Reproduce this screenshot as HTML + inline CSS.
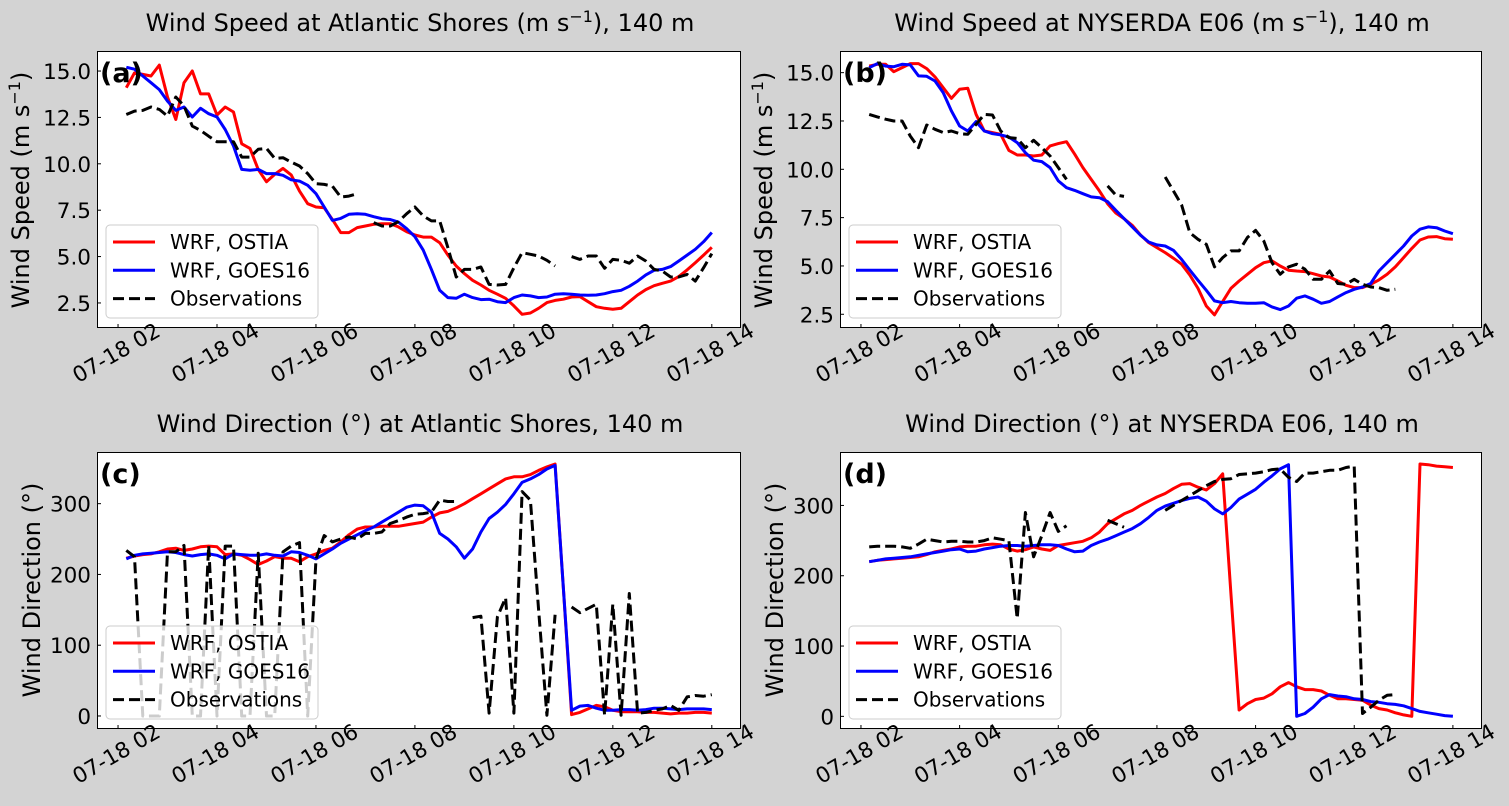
<!DOCTYPE html>
<html><head><meta charset="utf-8"><title>Wind speed and direction at 140 m</title>
<style>
html,body{margin:0;padding:0;background:#d3d3d3;}
svg{display:block;font-family:"DejaVu Sans","Liberation Sans",sans-serif;}
</style></head>
<body>
<svg id="fig" width="1509" height="806" viewBox="0 0 1509 806" xmlns="http://www.w3.org/2000/svg">
<rect x="0" y="0" width="1509" height="806" fill="#d3d3d3"/>
<text x="420" y="31" font-size="24" text-anchor="middle">Wind Speed at Atlantic Shores (m s<tspan dy="-9" font-size="16">−1</tspan><tspan dy="9">), 140 m</tspan></text>
<text x="1162" y="31" font-size="24" text-anchor="middle">Wind Speed at NYSERDA E06 (m s<tspan dy="-9" font-size="16">−1</tspan><tspan dy="9">), 140 m</tspan></text>
<text x="420" y="432" font-size="24" text-anchor="middle">Wind Direction (°) at Atlantic Shores, 140 m</text>
<text x="1162" y="432" font-size="24" text-anchor="middle">Wind Direction (°) at NYSERDA E06, 140 m</text>
<text transform="translate(29,190) rotate(-90)" font-size="24" text-anchor="middle">Wind Speed (m s<tspan dy="-9" font-size="16">−1</tspan><tspan dy="9">)</tspan></text>
<text transform="translate(772,190) rotate(-90)" font-size="24" text-anchor="middle">Wind Speed (m s<tspan dy="-9" font-size="16">−1</tspan><tspan dy="9">)</tspan></text>
<text transform="translate(40,590) rotate(-90)" font-size="24" text-anchor="middle">Wind Direction (°)</text>
<text transform="translate(783,590) rotate(-90)" font-size="24" text-anchor="middle">Wind Direction (°)</text>
</svg>
<script>
// time grid: 10-minute steps from 02:10 to 14:00 (hours)
const times = Array.from({length:72}, (_, k) => 2 + (k + 1) / 6);
const xTickHours = [2, 4, 6, 8, 10, 12, 14];
const xTickLabels = ["07-18 02","07-18 04","07-18 06","07-18 08","07-18 10","07-18 12","07-18 14"];
const speedTicks = [2.5, 5.0, 7.5, 10.0, 12.5, 15.0];
const dirTicks = [0, 100, 200, 300];
const legendLabels = ["WRF, OSTIA", "WRF, GOES16", "Observations"];

const ostiaA = [14.1,14.9,14.82,14.73,15.32,13.6,12.39,14.37,15.0,13.77,13.77,12.63,13.06,12.79,11.08,10.83,9.7,9.03,9.43,9.75,9.4,8.53,7.85,7.67,7.63,7.0,6.29,6.29,6.56,6.65,6.74,6.77,6.77,6.6,6.34,6.16,6.05,6.05,5.75,5.08,4.49,4.08,3.72,3.47,3.18,2.97,2.75,2.34,1.89,1.96,2.21,2.52,2.64,2.7,2.82,2.84,2.57,2.3,2.21,2.16,2.21,2.57,2.93,3.22,3.43,3.56,3.68,3.92,4.28,4.67,5.08,5.5];
const goesA = [15.2,15.1,14.73,14.37,14.0,13.38,12.88,13.06,12.52,12.99,12.7,12.52,11.85,10.96,9.7,9.65,9.7,9.47,9.47,9.38,9.14,9.07,8.84,8.39,7.67,6.95,7.06,7.28,7.31,7.28,7.15,7.04,7.0,6.86,6.5,6.07,5.35,4.31,3.18,2.79,2.75,2.97,2.79,2.68,2.7,2.57,2.52,2.79,2.93,2.88,2.79,2.82,2.97,3.0,2.97,2.93,2.91,2.93,3.0,3.11,3.18,3.4,3.68,4.01,4.26,4.31,4.46,4.76,5.08,5.39,5.8,6.3];
const obsA = [12.66,12.84,12.88,13.06,12.93,12.57,13.6,13.12,12.03,11.8,11.49,11.19,11.19,11.19,10.36,10.36,10.78,10.83,10.29,10.33,10.09,9.88,9.47,8.93,8.89,8.8,8.21,8.26,8.39,null,6.83,6.65,6.65,6.88,7.31,7.67,7.19,6.92,6.92,5.48,3.9,4.31,4.31,4.44,3.5,3.47,3.5,4.4,5.21,5.12,5.03,4.8,4.49,null,5.0,4.85,5.03,5.03,4.37,4.85,4.8,4.64,5.03,4.76,4.31,4.22,3.9,3.9,4.04,3.68,4.4,5.16];

const ostiaB = [15.34,15.43,15.43,15.05,15.26,15.47,15.47,15.21,14.78,14.22,13.67,14.14,14.19,12.84,11.98,11.9,11.81,10.98,10.74,10.74,10.69,10.74,11.21,11.33,11.43,10.78,10.09,9.48,8.88,8.22,7.74,7.45,7.1,6.6,6.21,5.95,5.69,5.4,5.09,4.53,3.84,2.93,2.47,3.16,3.84,4.22,4.57,4.91,5.17,5.26,5.0,4.78,4.74,4.71,4.6,4.48,4.43,4.22,4.0,3.88,3.88,4.05,4.28,4.57,4.95,5.43,5.91,6.34,6.5,6.52,6.41,6.38];
const goesB = [15.26,15.47,15.34,15.31,15.43,15.4,14.83,14.81,14.57,13.97,13.02,12.24,11.98,12.47,11.98,11.84,11.78,11.67,11.38,10.86,10.47,10.4,10.09,9.4,9.05,8.91,8.74,8.57,8.53,8.33,7.88,7.45,7.02,6.59,6.24,6.09,6.03,5.81,5.34,4.79,4.26,3.74,3.19,3.1,3.16,3.1,3.07,3.07,3.1,2.88,2.74,2.93,3.33,3.45,3.28,3.07,3.16,3.4,3.62,3.79,3.91,4.09,4.74,5.17,5.6,6.03,6.55,6.9,7.02,6.98,6.81,6.67];
const obsB = [12.84,12.71,12.59,12.5,12.5,11.72,11.12,12.29,12.07,11.9,11.98,11.84,11.81,12.33,12.84,12.81,11.98,11.64,11.6,11.12,11.5,11.12,10.69,10.09,9.48,null,null,null,null,9.14,8.67,8.6,null,null,null,null,9.6,8.88,8.16,6.72,6.38,6.12,4.95,5.43,5.78,5.78,6.47,6.84,6.29,5.17,4.57,4.95,5.09,4.83,4.31,4.31,4.74,4.09,4.05,4.31,4.05,3.91,3.88,3.74,3.79,null,null,null,null,null,null,null];

const ostiaC = [223,226,228,229,232,236,237,234,236,239,240,239,228,229,227,221,214,219,225,223,223,218,225,229,234,237,246,256,264,267,267,268,268,268,270,272,274,281,287,289,294,300,307,314,321,328,335,338,338,341,347,352,356,180,2,5,10,15,13,8,6,6,6,5,5,4,3,4,4,5,5,4];
const goesC = [222,227,229,230,231,232,231,228,226,228,229,227,222,229,228,227,227,229,227,226,232,231,227,222,229,236,244,250,256,262,267,274,281,288,295,298,297,288,258,250,239,223,236,260,279,288,299,314,330,335,341,349,354,180,8,14,15,11,8,8,9,9,8,9,11,11,10,9,10,10,10,9];
const obsC = [234,225,0,0,0,232,232,241,0,0,241,0,240,240,0,0,230,0,0,232,240,245,0,222,255,246,250,253,250,258,258,260,272,276,281,285,286,288,305,303,303,null,139,141,4,140,167,4,317,305,150,1,143,null,154,146,152,158,1,158,1,173,4,5,8,10,15,8,27,29,28,30];

const ostiaD = [220,222,223,224,225,226,227,230,234,236,238,241,242,242,244,245,244,238,235,237,241,238,236,243,245,247,249,254,262,274,281,288,293,300,306,312,317,324,330,331,326,322,331,345,175,9,18,24,26,32,42,48,42,38,38,36,30,25,25,24,23,16,11,9,5,2,0,359,358,356,355,354];
const goesD = [220,222,224,225,226,227,229,231,233,235,237,238,234,235,238,240,242,243,243,242,243,244,244,243,238,234,235,243,248,252,257,262,267,274,283,293,299,303,307,310,312,306,295,288,297,309,316,323,333,342,352,358,0,4,13,25,31,29,28,25,24,21,20,18,17,15,11,7,5,3,1,0];
const obsD = [241,242,242,242,241,239,245,252,250,248,249,249,248,248,250,254,252,250,139,290,227,257,290,263,271,null,null,null,null,279,274,269,null,null,null,null,293,300,307,314,321,328,334,337,338,344,345,346,348,351,352,340,334,346,346,348,350,350,354,356,4,13,23,30,31,null,null,null,null,null,null,null];

const NS = "http://www.w3.org/2000/svg";
const svg = document.getElementById("fig");
const xLim = [1.575, 14.59];

function mk(tag, attrs, parent) {
  const e = document.createElementNS(NS, tag);
  for (const k in attrs) e.setAttribute(k, attrs[k]);
  (parent || svg).appendChild(e);
  return e;
}

function drawPanel(id, box, yLim, yTicks, fmt, series) {
  const xs = t => box.x0 + (t - xLim[0]) / (xLim[1] - xLim[0]) * (box.x1 - box.x0);
  const ys = v => box.y1 - (v - yLim[0]) / (yLim[1] - yLim[0]) * (box.y1 - box.y0);
  const g = mk("g", {});
  
  
  const bg = mk("rect", {x: box.x0, y: box.y0, width: box.x1 - box.x0, height: box.y1 - box.y0, fill: "#fff"}, g);
  
  
  const clipId = "clip-" + id;
  const cp = mk("clipPath", {id: clipId}, g);
  mk("rect", {x: box.x0, y: box.y0, width: box.x1 - box.x0, height: box.y1 - box.y0}, cp);

  xTickHours.forEach((h, i) => {
    const x = xs(h);
    const tk = mk("line", {x1: x, x2: x, y1: box.y1, y2: box.y1 - 4, stroke: "#000", "stroke-width": 1}, g);
    
    
    const lb = mk("text", {x: 0, y: 0, "font-size": 21.5, "text-anchor": "middle", "dominant-baseline": "middle",
      transform: "translate(" + (x - 1) + "," + (box.y1 + 26) + ") rotate(-30)"}, g);
    lb.textContent = xTickLabels[i];
    
    
  });
  yTicks.forEach(v => {
    const y = ys(v);
    const tk = mk("line", {x1: box.x0, x2: box.x0 + 4, y1: y, y2: y, stroke: "#000", "stroke-width": 1}, g);
    
    
    const lb = mk("text", {x: box.x0 - 6, y: y + 8, "font-size": 21.5, "text-anchor": "end"}, g);
    lb.textContent = fmt(v);
    
    
  });

  const styles = [
    {stroke: "#ff0000", dash: null, name: "ostia"},
    {stroke: "#0000ff", dash: null, name: "goes16"},
    {stroke: "#000000", dash: "11 5", name: "observations"}
  ];
  series.forEach((vals, si) => {
    let d = "", pen = false;
    vals.forEach((v, k) => {
      if (v === null) { pen = false; return; }
      d += (pen ? "L" : "M") + xs(times[k]).toFixed(1) + "," + ys(v).toFixed(1);
      pen = true;
    });
    const p = mk("path", {d: d, fill: "none", stroke: styles[si].stroke, "stroke-width": 3,
      "stroke-linejoin": "round", "clip-path": "url(#" + clipId + ")"}, g);
    if (styles[si].dash) p.setAttribute("stroke-dasharray", styles[si].dash);
    
    
  });

  const lg = mk("g", {}, g);
  
  
  const lx = box.x0 + 9, ly = box.y1 - 103;
  mk("rect", {x: lx, y: ly, width: 212, height: 93, rx: 4, fill: "#fff", "fill-opacity": 0.8, stroke: "#cccccc", "stroke-width": 1}, lg);
  legendLabels.forEach((lab, i) => {
    const yy = ly + 17 + i * 28.3;
    const ln = mk("line", {x1: lx + 7, x2: lx + 49, y1: yy, y2: yy, stroke: styles[i].stroke, "stroke-width": 3}, lg);
    if (styles[i].dash) ln.setAttribute("stroke-dasharray", "11 5");
    
    
    const tx = mk("text", {x: lx + 64, y: yy + 7, "font-size": 20}, lg);
    tx.textContent = lab;
    
    
  });

  const fr = mk("rect", {x: box.x0 + 0.5, y: box.y0 + 0.5, width: box.x1 - box.x0 - 1, height: box.y1 - box.y0 - 1, fill: "none", stroke: "#000", "stroke-width": 1}, g);
  
  
  const pl = mk("text", {x: box.x0 + 3, y: box.y0 + 31, "font-size": 27, "font-weight": "bold"}, g);
  pl.textContent = "(" + id + ")";
  
  
}

const f1 = v => v.toFixed(1), f0 = v => String(v);
drawPanel("a", {x0: 97, x1: 741, y0: 51, y1: 328}, [1.15, 16.08], speedTicks, f1, [ostiaA, goesA, obsA]);
drawPanel("b", {x0: 840, x1: 1482, y0: 51, y1: 328}, [1.79, 16.12], speedTicks, f1, [ostiaB, goesB, obsB]);
drawPanel("c", {x0: 97, x1: 741, y0: 452, y1: 729}, [-18.4, 373], dirTicks, f0, [ostiaC, goesC, obsC]);
drawPanel("d", {x0: 840, x1: 1482, y0: 452, y1: 729}, [-18, 376], dirTicks, f0, [ostiaD, goesD, obsD]);
</script>
</body></html>
